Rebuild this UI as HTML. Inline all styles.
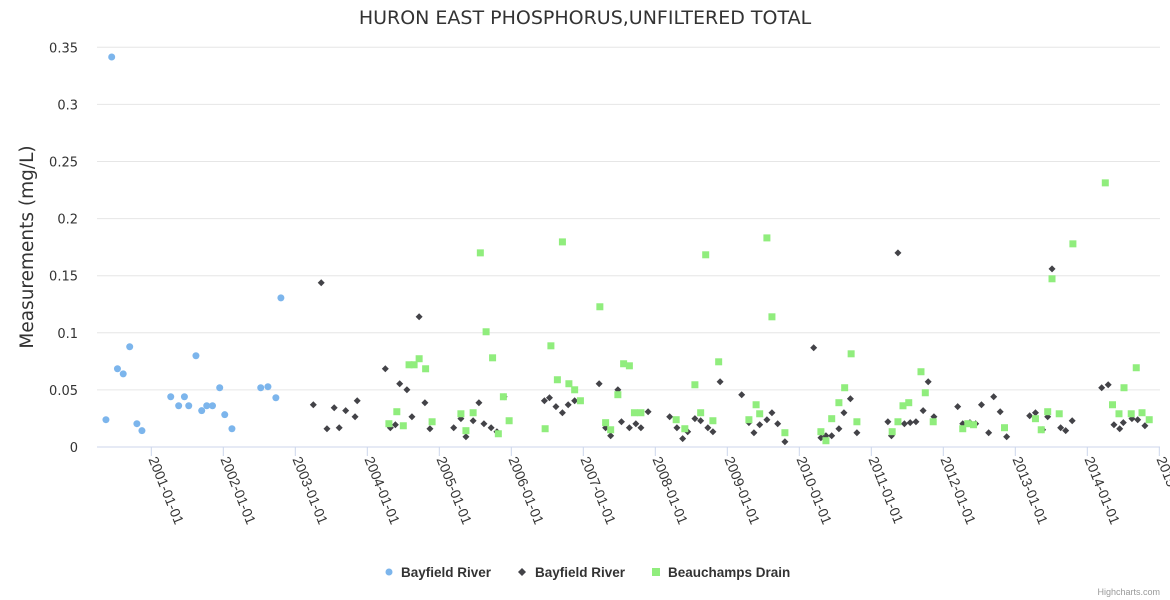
<!DOCTYPE html>
<html><head><meta charset="utf-8">
<style>
html,body{margin:0;padding:0;background:#fff;}
svg{display:block;font-family:"Liberation Sans",Arial,sans-serif;}
.dv{font-family:"DejaVu Sans","Liberation Sans",sans-serif;}
</style></head>
<body>
<svg id="chart" width="1170" height="600" viewBox="0 0 1170 600" xmlns="http://www.w3.org/2000/svg">
  <rect width="1170" height="600" fill="#fff"/>
  <text class="dv" x="585" y="24" text-anchor="middle" font-size="19" fill="#333">HURON EAST PHOSPHORUS,UNFILTERED TOTAL</text>
  <text class="dv" transform="translate(33,247) rotate(-90)" text-anchor="middle" font-size="18.5" fill="#333">Measurements (mg/L)</text>
  <g id="grid"></g>
  <g id="yticks"></g>
  <g id="xaxis"></g>
  <g id="marks"></g>
  <g>
    <g>
      <circle cx="389" cy="572" r="3.5" fill="#7cb5ec"/>
      <text x="401" y="577" font-size="13.5" font-weight="bold" fill="#333">Bayfield River</text>
    </g>
    <g>
      <path d="M522 568 L526 572 L522 576 L518 572 Z" fill="#434348"/>
      <text x="535" y="577" font-size="13.5" font-weight="bold" fill="#333">Bayfield River</text>
    </g>
    <g>
      <rect x="652" y="568" width="8" height="8" fill="#90ed7d"/>
      <text x="668" y="577" font-size="13.5" font-weight="bold" fill="#333">Beauchamps Drain</text>
    </g>
  </g>
  <text x="1160" y="595" text-anchor="end" font-size="9" fill="#999">Highcharts.com</text>
</svg>
<script>
// Data (x = decimal year, y = mg/L)
const yTicks = [0, 0.05, 0.1, 0.15, 0.2, 0.25, 0.3, 0.35];
const yTickLabels = ["0","0.05","0.1","0.15","0.2","0.25","0.3","0.35"];
const xTickYears = [2001,2002,2003,2004,2005,2006,2007,2008,2009,2010,2011,2012,2013,2014,2015];
const xTickLabels = ["2001-01-01","2002-01-01","2003-01-01","2004-01-01","2005-01-01","2006-01-01","2007-01-01","2008-01-01","2009-01-01","2010-01-01","2011-01-01","2012-01-01","2013-01-01","2014-01-01","2015-01-01"];

const blueX = [2000.37,2000.45,2000.53,2000.61,2000.70,2000.80,2000.87,2001.27,2001.38,2001.46,2001.52,2001.62,2001.70,2001.77,2001.85,2001.95,2002.02,2002.12,2002.52,2002.62,2002.73,2002.80];
const blueY = [0.0239,0.3415,0.0685,0.064,0.0878,0.0204,0.0143,0.044,0.0361,0.044,0.0361,0.0799,0.0318,0.0361,0.0361,0.0519,0.0283,0.016,0.0519,0.0528,0.0431,0.1306];

const darkX = [2003.25,2003.36,2003.44,2003.54,2003.61,2003.70,2003.83,2003.86,2004.25,2004.32,2004.39,2004.45,2004.55,2004.62,2004.72,2004.80,2004.87,2005.20,2005.30,2005.37,2005.47,2005.55,2005.62,2005.72,2005.80,2005.90,2006.46,2006.53,2006.62,2006.71,2006.79,2006.88,2007.22,2007.31,2007.38,2007.48,2007.53,2007.64,2007.73,2007.80,2007.90,2008.20,2008.30,2008.38,2008.45,2008.55,2008.63,2008.73,2008.80,2008.90,2009.20,2009.30,2009.37,2009.45,2009.55,2009.62,2009.70,2009.80,2010.20,2010.30,2010.37,2010.45,2010.55,2010.62,2010.71,2010.80,2011.23,2011.28,2011.37,2011.46,2011.54,2011.62,2011.72,2011.79,2011.87,2012.20,2012.27,2012.37,2012.45,2012.53,2012.63,2012.70,2012.79,2012.88,2013.20,2013.28,2013.38,2013.45,2013.51,2013.63,2013.70,2013.79,2014.20,2014.29,2014.37,2014.45,2014.50,2014.62,2014.70,2014.80];
const darkY = [0.037,0.1438,0.016,0.0344,0.0169,0.0318,0.0265,0.0405,0.0685,0.0169,0.0195,0.0554,0.0501,0.0265,0.114,0.0388,0.016,0.0169,0.0248,0.009,0.023,0.0388,0.0204,0.0169,0.0134,0.044,0.0405,0.0431,0.0353,0.03,0.037,0.0405,0.0554,0.0169,0.0099,0.0501,0.0221,0.0169,0.0204,0.0169,0.0309,0.0265,0.0169,0.0073,0.0134,0.0248,0.023,0.0169,0.0134,0.0571,0.0458,0.0213,0.0125,0.0195,0.0239,0.03,0.0204,0.0046,0.0869,0.0081,0.0099,0.0099,0.016,0.03,0.0423,0.0125,0.0221,0.0099,0.17,0.0204,0.0213,0.0221,0.0318,0.0571,0.0265,0.0353,0.0204,0.0213,0.0204,0.037,0.0125,0.044,0.0309,0.009,0.0274,0.03,0.0151,0.0265,0.156,0.0169,0.0143,0.023,0.0519,0.0545,0.0195,0.016,0.0213,0.0248,0.0239,0.0186];

const greenX = [2004.30,2004.41,2004.50,2004.58,2004.65,2004.72,2004.81,2004.90,2005.30,2005.37,2005.47,2005.57,2005.65,2005.74,2005.82,2005.89,2005.97,2006.47,2006.55,2006.64,2006.71,2006.80,2006.88,2006.96,2007.23,2007.31,2007.38,2007.48,2007.56,2007.64,2007.71,2007.80,2008.29,2008.41,2008.55,2008.63,2008.70,2008.80,2008.88,2009.30,2009.40,2009.45,2009.55,2009.62,2009.80,2010.30,2010.37,2010.45,2010.55,2010.63,2010.72,2010.80,2011.29,2011.37,2011.44,2011.52,2011.69,2011.75,2011.86,2012.27,2012.34,2012.42,2012.85,2013.28,2013.36,2013.45,2013.51,2013.61,2013.80,2014.25,2014.35,2014.44,2014.51,2014.61,2014.68,2014.76,2014.86];
const greenY = [0.0204,0.0309,0.0186,0.072,0.072,0.0773,0.0685,0.0221,0.0291,0.0143,0.03,0.170,0.1009,0.0781,0.0116,0.044,0.023,0.016,0.0886,0.0589,0.1796,0.0554,0.0501,0.0405,0.1228,0.0213,0.0151,0.0458,0.0729,0.0711,0.03,0.03,0.0239,0.016,0.0545,0.03,0.1683,0.023,0.0746,0.0239,0.037,0.0291,0.1831,0.114,0.0125,0.0134,0.0055,0.0248,0.0388,0.0519,0.0816,0.0221,0.0134,0.0221,0.0361,0.0388,0.0659,0.0475,0.0221,0.016,0.0204,0.0195,0.0169,0.0248,0.0151,0.0309,0.1473,0.0291,0.1779,0.2313,0.037,0.0291,0.0519,0.0291,0.0694,0.03,0.0239];

const NS = "http://www.w3.org/2000/svg";
const plotLeft = 97, plotRight = 1160, plotTop = 47.3, plotBottom = 447;
function yScale(v){ return plotBottom - v / 0.35 * (plotBottom - plotTop); }
function xScale(yr){ return 151.3 + (yr - 2001) * 72; }
function mk(tag, attrs, parent){
  const el = document.createElementNS(NS, tag);
  for (const k in attrs) el.setAttribute(k, attrs[k]);
  parent.appendChild(el);
  return el;
}
const grid = document.getElementById('grid');
const yt = document.getElementById('yticks');
yTicks.forEach((v,i)=>{
  const y = yScale(v);
  if (i > 0) {
    const l = mk('line',{x1:plotLeft,x2:plotRight,y1:y,y2:y,stroke:'#e6e6e6','stroke-width':1},grid);
    
    
  }
  const t = mk('text',{x:78,y:y+5,'text-anchor':'end','font-size':13,fill:'#333','class':'dv'},yt);
  t.textContent = yTickLabels[i];
  
  
});
const xa = document.getElementById('xaxis');
const axisLine = mk('line',{x1:plotLeft,x2:plotRight,y1:plotBottom,y2:plotBottom,stroke:'#ccd6eb','stroke-width':1},xa);


xTickYears.forEach((yr,i)=>{
  const x = xScale(yr);
  const tk = mk('line',{x1:x,x2:x,y1:plotBottom,y2:plotBottom+9,stroke:'#ccd6eb','stroke-width':1},xa);
  
  
  const t = mk('text',{transform:`translate(${x-3},${459}) rotate(68)`,'font-size':14,fill:'#333'},xa);
  t.textContent = xTickLabels[i];
  
  
});
const marks = document.getElementById('marks');
blueX.forEach((xv,i)=>{
  const c = mk('circle',{cx:xScale(xv),cy:yScale(blueY[i]),r:3.5,fill:'#7cb5ec'},marks);
  
  
});
darkX.forEach((xv,i)=>{
  const x = xScale(xv), y = yScale(darkY[i]);
  const p = mk('path',{d:`M${x} ${y-3.5} L${x+3.5} ${y} L${x} ${y+3.5} L${x-3.5} ${y} Z`,fill:'#434348'},marks);
  
  
});
greenX.forEach((xv,i)=>{
  const r = mk('rect',{x:xScale(xv)-3.5,y:yScale(greenY[i])-3.5,width:7,height:7,fill:'#90ed7d'},marks);
  
  
});
</script>
</body></html>
